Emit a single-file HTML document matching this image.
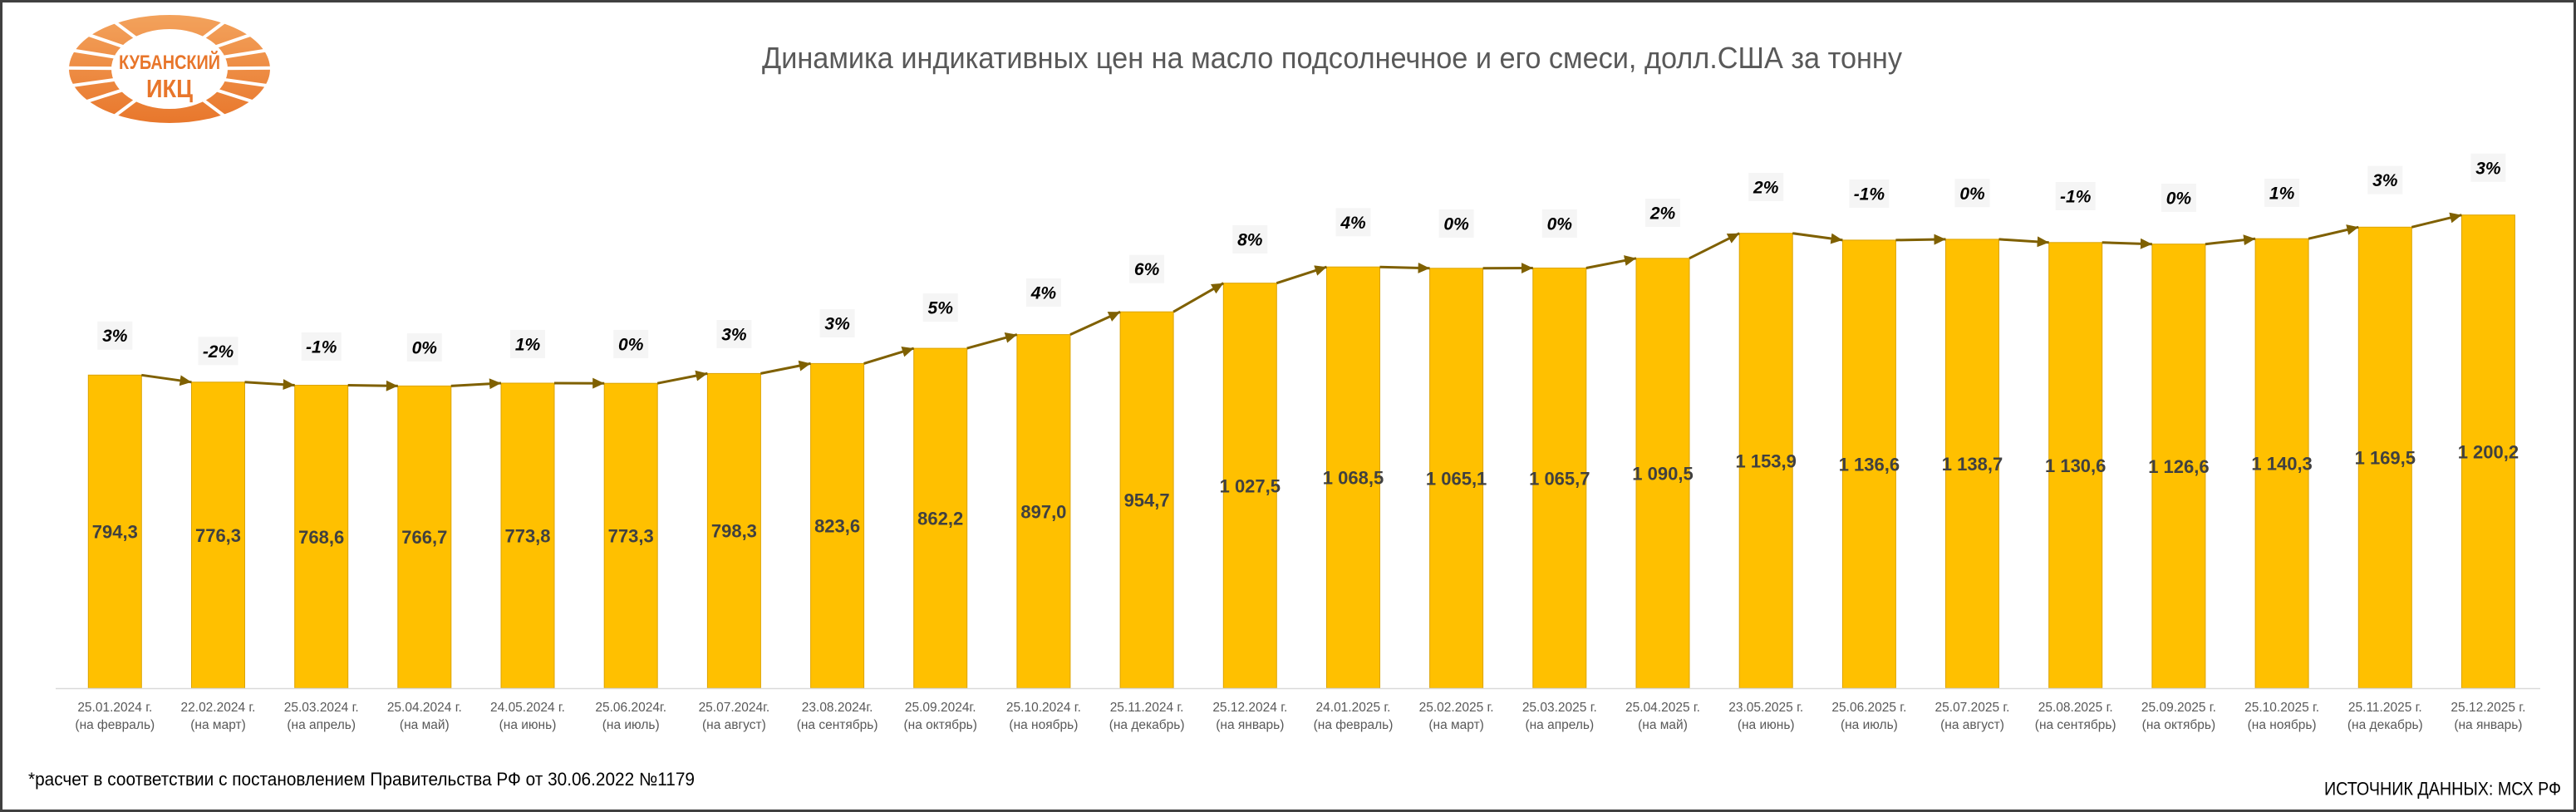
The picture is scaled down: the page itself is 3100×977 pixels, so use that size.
<!DOCTYPE html>
<html>
<head>
<meta charset="utf-8">
<style>
  html, body { margin: 0; padding: 0; background: #fff; }
  svg { display: block; }
  .ttl { font-family: "Liberation Sans", "Noto Sans CJK SC", sans-serif; font-size: 36px; fill: #595959; }
  .val { font-family: "Liberation Sans", sans-serif; font-size: 22px; font-weight: bold; fill: #404040; text-anchor: middle; }
  .pct { font-family: "Liberation Sans", sans-serif; font-size: 21px; font-weight: bold; font-style: italic; fill: #000; text-anchor: middle; }
  .ax { font-family: "Liberation Sans", sans-serif; font-size: 15.5px; fill: #595959; text-anchor: middle; }
  .foot { font-family: "Liberation Sans", sans-serif; font-size: 22px; fill: #000; }
  .bar { fill: #FFC000; stroke: #DCA300; stroke-width: 1; }
  .pb { fill: #F5F5F5; }
  .arr { stroke: #7F6000; stroke-width: 3; fill: none; marker-end: url(#ah); }
  .lg { font-family: "Liberation Sans", sans-serif; font-weight: bold; fill: #E8762B; }
</style>
</head>
<body>
<svg width="3100" height="977" viewBox="0 0 3100 977" xmlns="http://www.w3.org/2000/svg">
  <defs>
    <marker id="ah" markerUnits="userSpaceOnUse" markerWidth="15" markerHeight="13" refX="14" refY="6.5" orient="auto">
      <path d="M0,0 L14,6.5 L0,13 z" fill="#7F6000"/>
    </marker>
    <linearGradient id="og" x1="0" y1="0" x2="0" y2="1">
      <stop offset="0" stop-color="#F3A25C"/>
      <stop offset="1" stop-color="#E8772C"/>
    </linearGradient>
  </defs>

  <rect x="0" y="0" width="3100" height="977" fill="#fff"/>
  <rect x="1.5" y="1.5" width="3097" height="974" fill="none" stroke="#404040" stroke-width="3"/>

  <!-- Logo -->
  <g>
    <ellipse cx="204" cy="83" rx="121" ry="65" fill="url(#og)"/>
    <ellipse cx="204" cy="83" rx="70" ry="48" fill="#fff"/>
    <g stroke="#fff" stroke-width="4" stroke-linecap="round">
      <line x1="169.6" y1="50.2" x2="129.4" y2="20"/>
      <line x1="156.1" y1="58.9" x2="100.1" y2="39.7"/>
      <line x1="147.2" y1="70" x2="81" y2="59.5"/>
      <line x1="144" y1="82.3" x2="74" y2="81.8"/>
      <line x1="146.6" y1="94.7" x2="79.7" y2="104"/>
      <line x1="154.9" y1="106" x2="97.5" y2="124.3"/>
      <line x1="169.6" y1="115.8" x2="129.4" y2="146"/>
      <line x1="238.4" y1="50.2" x2="278.6" y2="20"/>
      <line x1="251.9" y1="58.9" x2="307.9" y2="39.7"/>
      <line x1="260.8" y1="70" x2="327" y2="59.5"/>
      <line x1="264" y1="82.3" x2="334" y2="81.8"/>
      <line x1="261.4" y1="94.7" x2="328.3" y2="104"/>
      <line x1="253.1" y1="106" x2="310.5" y2="124.3"/>
      <line x1="238.4" y1="115.8" x2="278.6" y2="146"/>
    </g>
    <text class="lg" x="143" y="83" font-size="24" textLength="122" lengthAdjust="spacingAndGlyphs">КУБАНСКИЙ</text>
    <text class="lg" x="176" y="117" font-size="31" textLength="56" lengthAdjust="spacingAndGlyphs">ИКЦ</text>
  </g>

  <!-- Title -->
  <text class="ttl" x="917" y="82" textLength="1372" lengthAdjust="spacingAndGlyphs">Динамика индикативных цен на масло подсолнечное и его смеси, долл.США за тонну</text>

  <!-- Bars -->
  <g>
    <rect class="bar" x="106.3" y="451.3" width="64" height="376.7"/>
    <rect class="bar" x="230.5" y="459.8" width="64" height="368.2"/>
    <rect class="bar" x="354.7" y="463.5" width="64" height="364.5"/>
    <rect class="bar" x="478.8" y="464.4" width="64" height="363.6"/>
    <rect class="bar" x="603.0" y="461.0" width="64" height="367.0"/>
    <rect class="bar" x="727.2" y="461.2" width="64" height="366.8"/>
    <rect class="bar" x="851.4" y="449.4" width="64" height="378.6"/>
    <rect class="bar" x="975.6" y="437.4" width="64" height="390.6"/>
    <rect class="bar" x="1099.7" y="419.1" width="64" height="408.9"/>
    <rect class="bar" x="1223.9" y="402.6" width="64" height="425.4"/>
    <rect class="bar" x="1348.1" y="375.2" width="64" height="452.8"/>
    <rect class="bar" x="1472.3" y="340.7" width="64" height="487.3"/>
    <rect class="bar" x="1596.5" y="321.2" width="64" height="506.8"/>
    <rect class="bar" x="1720.6" y="322.8" width="64" height="505.2"/>
    <rect class="bar" x="1844.8" y="322.5" width="64" height="505.5"/>
    <rect class="bar" x="1969.0" y="310.8" width="64" height="517.2"/>
    <rect class="bar" x="2093.2" y="280.7" width="64" height="547.3"/>
    <rect class="bar" x="2217.4" y="288.9" width="64" height="539.1"/>
    <rect class="bar" x="2341.5" y="287.9" width="64" height="540.1"/>
    <rect class="bar" x="2465.7" y="291.8" width="64" height="536.2"/>
    <rect class="bar" x="2589.9" y="293.7" width="64" height="534.3"/>
    <rect class="bar" x="2714.1" y="287.2" width="64" height="540.8"/>
    <rect class="bar" x="2838.3" y="273.3" width="64" height="554.7"/>
    <rect class="bar" x="2962.4" y="258.7" width="64" height="569.3"/>
  </g>

  <!-- Axis line -->
  <line x1="67" y1="828.5" x2="3057" y2="828.5" stroke="#D9D9D9" stroke-width="1.5"/>

  <!-- Arrows -->
  <g>
    <line class="arr" x1="170.3" y1="451.3" x2="230.5" y2="459.8"/>
    <line class="arr" x1="294.5" y1="459.8" x2="354.7" y2="463.5"/>
    <line class="arr" x1="418.7" y1="463.5" x2="478.8" y2="464.4"/>
    <line class="arr" x1="542.8" y1="464.4" x2="603.0" y2="461.0"/>
    <line class="arr" x1="667.0" y1="461.0" x2="727.2" y2="461.2"/>
    <line class="arr" x1="791.2" y1="461.2" x2="851.4" y2="449.4"/>
    <line class="arr" x1="915.4" y1="449.4" x2="975.6" y2="437.4"/>
    <line class="arr" x1="1039.6" y1="437.4" x2="1099.7" y2="419.1"/>
    <line class="arr" x1="1163.7" y1="419.1" x2="1223.9" y2="402.6"/>
    <line class="arr" x1="1287.9" y1="402.6" x2="1348.1" y2="375.2"/>
    <line class="arr" x1="1412.1" y1="375.2" x2="1472.3" y2="340.7"/>
    <line class="arr" x1="1536.3" y1="340.7" x2="1596.5" y2="321.2"/>
    <line class="arr" x1="1660.5" y1="321.2" x2="1720.6" y2="322.8"/>
    <line class="arr" x1="1784.6" y1="322.8" x2="1844.8" y2="322.5"/>
    <line class="arr" x1="1908.8" y1="322.5" x2="1969.0" y2="310.8"/>
    <line class="arr" x1="2033.0" y1="310.8" x2="2093.2" y2="280.7"/>
    <line class="arr" x1="2157.2" y1="280.7" x2="2217.4" y2="288.9"/>
    <line class="arr" x1="2281.4" y1="288.9" x2="2341.5" y2="287.9"/>
    <line class="arr" x1="2405.5" y1="287.9" x2="2465.7" y2="291.8"/>
    <line class="arr" x1="2529.7" y1="291.8" x2="2589.9" y2="293.7"/>
    <line class="arr" x1="2653.9" y1="293.7" x2="2714.1" y2="287.2"/>
    <line class="arr" x1="2778.1" y1="287.2" x2="2838.3" y2="273.3"/>
    <line class="arr" x1="2902.3" y1="273.3" x2="2962.4" y2="258.7"/>
  </g>

  <!-- Value labels -->
  <g>
    <text class="val" x="138.3" y="647.7">794,3</text>
    <text class="val" x="262.5" y="651.9">776,3</text>
    <text class="val" x="386.7" y="653.8">768,6</text>
    <text class="val" x="510.8" y="654.2">766,7</text>
    <text class="val" x="635.0" y="652.5">773,8</text>
    <text class="val" x="759.2" y="652.6">773,3</text>
    <text class="val" x="883.4" y="646.7">798,3</text>
    <text class="val" x="1007.6" y="640.7">823,6</text>
    <text class="val" x="1131.7" y="631.6">862,2</text>
    <text class="val" x="1255.9" y="623.3">897,0</text>
    <text class="val" x="1380.1" y="609.6">954,7</text>
    <text class="val" x="1504.3" y="592.4">1 027,5</text>
    <text class="val" x="1628.5" y="582.6">1 068,5</text>
    <text class="val" x="1752.6" y="583.4">1 065,1</text>
    <text class="val" x="1876.8" y="583.3">1 065,7</text>
    <text class="val" x="2001.0" y="577.4">1 090,5</text>
    <text class="val" x="2125.2" y="562.4">1 153,9</text>
    <text class="val" x="2249.4" y="566.5">1 136,6</text>
    <text class="val" x="2373.5" y="566.0">1 138,7</text>
    <text class="val" x="2497.7" y="567.9">1 130,6</text>
    <text class="val" x="2621.9" y="568.9">1 126,6</text>
    <text class="val" x="2746.1" y="565.6">1 140,3</text>
    <text class="val" x="2870.3" y="558.7">1 169,5</text>
    <text class="val" x="2994.4" y="551.4">1 200,2</text>
  </g>

  <!-- Percent labels -->
  <g>
    <rect class="pb" x="117.3" y="386.7" width="42" height="34"/><text class="pct" x="138.3" y="411.2">3%</text>
    <rect class="pb" x="238.5" y="405.3" width="48" height="34"/><text class="pct" x="262.5" y="429.8">-2%</text>
    <rect class="pb" x="362.7" y="400" width="48" height="34"/><text class="pct" x="386.7" y="424.5">-1%</text>
    <rect class="pb" x="489.8" y="401" width="42" height="34"/><text class="pct" x="510.8" y="425.5">0%</text>
    <rect class="pb" x="614.0" y="397" width="42" height="34"/><text class="pct" x="635.0" y="421.5">1%</text>
    <rect class="pb" x="738.2" y="397" width="42" height="34"/><text class="pct" x="759.2" y="421.5">0%</text>
    <rect class="pb" x="862.4" y="385" width="42" height="34"/><text class="pct" x="883.4" y="409.5">3%</text>
    <rect class="pb" x="986.6" y="372" width="42" height="34"/><text class="pct" x="1007.6" y="396.5">3%</text>
    <rect class="pb" x="1110.7" y="353" width="42" height="34"/><text class="pct" x="1131.7" y="377.5">5%</text>
    <rect class="pb" x="1234.9" y="335" width="42" height="34"/><text class="pct" x="1255.9" y="359.5">4%</text>
    <rect class="pb" x="1359.1" y="306.7" width="42" height="34"/><text class="pct" x="1380.1" y="331.2">6%</text>
    <rect class="pb" x="1483.3" y="271" width="42" height="34"/><text class="pct" x="1504.3" y="295.5">8%</text>
    <rect class="pb" x="1607.5" y="250.3" width="42" height="34"/><text class="pct" x="1628.5" y="274.8">4%</text>
    <rect class="pb" x="1731.6" y="252" width="42" height="34"/><text class="pct" x="1752.6" y="276.5">0%</text>
    <rect class="pb" x="1855.8" y="252" width="42" height="34"/><text class="pct" x="1876.8" y="276.5">0%</text>
    <rect class="pb" x="1980.0" y="239" width="42" height="34"/><text class="pct" x="2001.0" y="263.5">2%</text>
    <rect class="pb" x="2104.2" y="208" width="42" height="34"/><text class="pct" x="2125.2" y="232.5">2%</text>
    <rect class="pb" x="2225.4" y="216" width="48" height="34"/><text class="pct" x="2249.4" y="240.5">-1%</text>
    <rect class="pb" x="2352.5" y="215.3" width="42" height="34"/><text class="pct" x="2373.5" y="239.8">0%</text>
    <rect class="pb" x="2473.7" y="219" width="48" height="34"/><text class="pct" x="2497.7" y="243.5">-1%</text>
    <rect class="pb" x="2600.9" y="221" width="42" height="34"/><text class="pct" x="2621.9" y="245.5">0%</text>
    <rect class="pb" x="2725.1" y="215" width="42" height="34"/><text class="pct" x="2746.1" y="239.5">1%</text>
    <rect class="pb" x="2849.3" y="199.7" width="42" height="34"/><text class="pct" x="2870.3" y="224.2">3%</text>
    <rect class="pb" x="2973.4" y="184.8" width="42" height="34"/><text class="pct" x="2994.4" y="209.3">3%</text>
  </g>

  <!-- Axis labels -->
  <g>
    <text class="ax" x="138.3" y="856">25.01.2024 г.</text><text class="ax" x="138.3" y="877">(на февраль)</text>
    <text class="ax" x="262.5" y="856">22.02.2024 г.</text><text class="ax" x="262.5" y="877">(на март)</text>
    <text class="ax" x="386.7" y="856">25.03.2024 г.</text><text class="ax" x="386.7" y="877">(на апрель)</text>
    <text class="ax" x="510.8" y="856">25.04.2024 г.</text><text class="ax" x="510.8" y="877">(на май)</text>
    <text class="ax" x="635.0" y="856">24.05.2024 г.</text><text class="ax" x="635.0" y="877">(на июнь)</text>
    <text class="ax" x="759.2" y="856">25.06.2024г.</text><text class="ax" x="759.2" y="877">(на июль)</text>
    <text class="ax" x="883.4" y="856">25.07.2024г.</text><text class="ax" x="883.4" y="877">(на август)</text>
    <text class="ax" x="1007.6" y="856">23.08.2024г.</text><text class="ax" x="1007.6" y="877">(на сентябрь)</text>
    <text class="ax" x="1131.7" y="856">25.09.2024г.</text><text class="ax" x="1131.7" y="877">(на октябрь)</text>
    <text class="ax" x="1255.9" y="856">25.10.2024 г.</text><text class="ax" x="1255.9" y="877">(на ноябрь)</text>
    <text class="ax" x="1380.1" y="856">25.11.2024 г.</text><text class="ax" x="1380.1" y="877">(на декабрь)</text>
    <text class="ax" x="1504.3" y="856">25.12.2024 г.</text><text class="ax" x="1504.3" y="877">(на январь)</text>
    <text class="ax" x="1628.5" y="856">24.01.2025 г.</text><text class="ax" x="1628.5" y="877">(на февраль)</text>
    <text class="ax" x="1752.6" y="856">25.02.2025 г.</text><text class="ax" x="1752.6" y="877">(на март)</text>
    <text class="ax" x="1876.8" y="856">25.03.2025 г.</text><text class="ax" x="1876.8" y="877">(на апрель)</text>
    <text class="ax" x="2001.0" y="856">25.04.2025 г.</text><text class="ax" x="2001.0" y="877">(на май)</text>
    <text class="ax" x="2125.2" y="856">23.05.2025 г.</text><text class="ax" x="2125.2" y="877">(на июнь)</text>
    <text class="ax" x="2249.4" y="856">25.06.2025 г.</text><text class="ax" x="2249.4" y="877">(на июль)</text>
    <text class="ax" x="2373.5" y="856">25.07.2025 г.</text><text class="ax" x="2373.5" y="877">(на август)</text>
    <text class="ax" x="2497.7" y="856">25.08.2025 г.</text><text class="ax" x="2497.7" y="877">(на сентябрь)</text>
    <text class="ax" x="2621.9" y="856">25.09.2025 г.</text><text class="ax" x="2621.9" y="877">(на октябрь)</text>
    <text class="ax" x="2746.1" y="856">25.10.2025 г.</text><text class="ax" x="2746.1" y="877">(на ноябрь)</text>
    <text class="ax" x="2870.3" y="856">25.11.2025 г.</text><text class="ax" x="2870.3" y="877">(на декабрь)</text>
    <text class="ax" x="2994.4" y="856">25.12.2025 г.</text><text class="ax" x="2994.4" y="877">(на январь)</text>
  </g>

  <!-- Footnotes -->
  <text class="foot" x="34" y="945" textLength="802" lengthAdjust="spacingAndGlyphs">*расчет в соответствии с постановлением Правительства РФ от 30.06.2022 №1179</text>
  <text class="foot" x="2797" y="956.5" font-size="21.5" textLength="285" lengthAdjust="spacingAndGlyphs">ИСТОЧНИК ДАННЫХ: МСХ РФ</text>
</svg>
</body>
</html>
